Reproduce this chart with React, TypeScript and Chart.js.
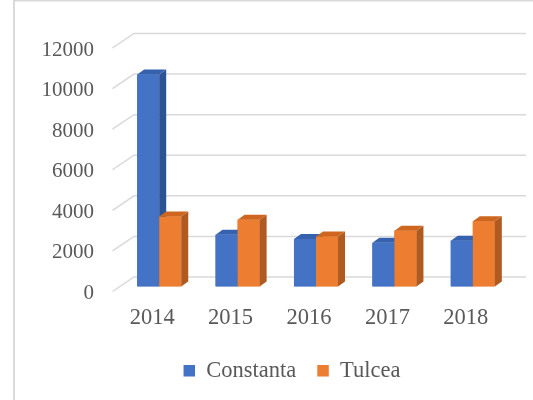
import React, { useEffect, useRef } from 'react';
import { Chart, registerables } from 'chart.js';

Chart.register(...registerables);

const categories = ['2014', '2015', '2016', '2017', '2018'];
const constanta = [10450, 2550, 2340, 2150, 2260];
const tulcea = [3450, 3290, 2470, 2750, 3210];
const yTickValues = [0, 2000, 4000, 6000, 8000, 10000, 12000];
const yTickLabels = ['0', '2000', '4000', '6000', '8000', '10000', '12000'];
const seriesNames = ['Constanta', 'Tulcea'];

const frontColors = ['#4472C4', '#ED7D31'];
const sideColors = ['#2E5393', '#AE5A21'];
const topColors = ['#3561AE', '#CF661F'];
const DX = 7;
const DY = -5;
const FONT = "'Liberation Serif', 'Times New Roman', serif";
const TEXT = '#595959';

const framePlugin = {
  id: 'frame',
  beforeDraw(chart: any) {
    const { ctx, width, height } = chart;
    ctx.save();
    ctx.fillStyle = '#ffffff';
    ctx.fillRect(0, 0, width, height);
    ctx.strokeStyle = '#d9d9d9';
    ctx.lineWidth = 2;
    ctx.beginPath();
    ctx.moveTo(14, height);
    ctx.lineTo(14, 0.5);
    ctx.lineTo(width, 0.5);
    ctx.stroke();
    ctx.restore();
  },
};

const legendShiftPlugin = {
  id: 'legendShift',
  afterLayout(chart: any) {
    if (chart.legend) {
      chart.legend.left += 29;
      chart.legend.right += 29;
    }
  },
};

const wallGridPlugin = {
  id: 'wallGrid',
  beforeDatasetsDraw(chart: any) {
    const { ctx, chartArea } = chart;
    const yScale = chart.scales.y;
    ctx.save();
    ctx.strokeStyle = '#d9d9d9';
    ctx.lineWidth = 1.5;
    yTickValues.forEach((v) => {
      const y = yScale.getPixelForValue(v);
      ctx.beginPath();
      ctx.moveTo(chartArea.left - 7.5, y + 5);
      ctx.lineTo(chartArea.left + 14, y - 9.5);
      ctx.lineTo(chartArea.right + 14, y - 9.5);
      ctx.stroke();
    });
    ctx.restore();
  },
};

const bars3dPlugin = {
  id: 'bars3d',
  afterDatasetsDraw(chart: any) {
    const { ctx } = chart;
    const metas = chart.data.datasets.map((_: any, i: number) => chart.getDatasetMeta(i));
    ctx.save();
    for (let j = 0; j < categories.length; j++) {
      metas.forEach((meta: any, i: number) => {
        const el = meta.data[j];
        if (!el) return;
        const { x, y, base, width } = el.getProps(['x', 'y', 'base', 'width'], true);
        const l = x - width / 2;
        const r = x + width / 2;
        ctx.fillStyle = frontColors[i];
        ctx.fillRect(l, y, width, base - y);
        ctx.fillStyle = sideColors[i];
        ctx.beginPath();
        ctx.moveTo(r, y);
        ctx.lineTo(r + DX, y + DY);
        ctx.lineTo(r + DX, base + DY);
        ctx.lineTo(r, base);
        ctx.closePath();
        ctx.fill();
        ctx.fillStyle = topColors[i];
        ctx.beginPath();
        ctx.moveTo(l, y);
        ctx.lineTo(l + DX, y + DY);
        ctx.lineTo(r + DX, y + DY);
        ctx.lineTo(r, y);
        ctx.closePath();
        ctx.fill();
      });
    }
    ctx.restore();
  },
};

export default function App() {
  const ref = useRef<HTMLCanvasElement | null>(null);

  useEffect(() => {
    if (!ref.current) return;
    const chart = new Chart(ref.current, {
      type: 'bar',
      data: {
        labels: categories,
        datasets: [
          {
            label: seriesNames[0],
            data: constanta,
            backgroundColor: frontColors[0],
            barPercentage: 1,
            categoryPercentage: 0.562,
          },
          {
            label: seriesNames[1],
            data: tulcea,
            backgroundColor: frontColors[1],
            barPercentage: 1,
            categoryPercentage: 0.562,
          },
        ],
      },
      options: {
        responsive: false,
        animation: false,
        events: [],
        layout: {
          padding: { left: 14, right: 21, top: 43, bottom: 8 },
        },
        scales: {
          x: {
            grid: { display: false, drawTicks: false },
            border: { display: false },
            ticks: {
              color: TEXT,
              font: { family: FONT, size: 22.5 },
              padding: 18,
              labelOffset: -7,
              maxRotation: 0,
            },
            afterFit: (scale: any) => {
              scale.height = 52;
            },
          },
          y: {
            min: 0,
            max: 12000,
            grid: { display: false, drawTicks: false },
            border: { display: false },
            ticks: {
              stepSize: 2000,
              color: TEXT,
              font: { family: FONT, size: 21 },
              padding: 26,
              labelOffset: 7,
              callback: (value: any) => {
                const idx = yTickValues.indexOf(Number(value));
                return idx >= 0 ? yTickLabels[idx] : '';
              },
            },
            afterFit: (scale: any) => {
              scale.width = 106;
            },
          },
        },
        plugins: {
          tooltip: { enabled: false },
          legend: {
            position: 'bottom',
            labels: {
              color: TEXT,
              font: { family: FONT, size: 22.5 },
              boxWidth: 11.5,
              boxHeight: 11.5,
              padding: 21,
            },
          },
        },
      },
      plugins: [framePlugin, legendShiftPlugin, wallGridPlugin, bars3dPlugin],
    });
    return () => chart.destroy();
  }, []);

  return (
    <div style={{ position: 'fixed', left: 0, top: 0, width: 533, height: 400, background: '#fff' }}>
      <canvas ref={ref} width={533} height={400} style={{ display: 'block' }} />
    </div>
  );
}
